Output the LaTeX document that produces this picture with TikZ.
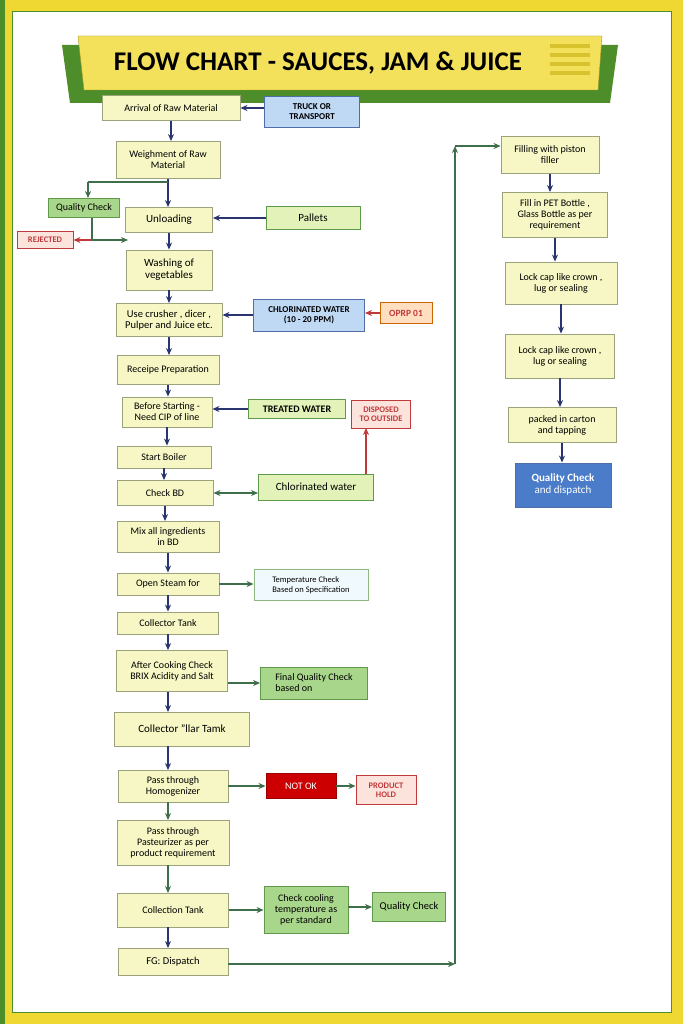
\documentclass[tikz,border=0pt]{standalone}
\usepackage{fontspec}
\setmainfont{Carlito}
\usetikzlibrary{arrows.meta}
\definecolor{ybox}{HTML}{F6F7C4}
\definecolor{ydraw}{HTML}{9CA27A}
\definecolor{gbox}{HTML}{A8D68A}
\definecolor{gdraw}{HTML}{5E9A4A}
\definecolor{lgbox}{HTML}{E2F2B8}
\definecolor{bbox}{HTML}{BFD8F4}
\definecolor{bdraw}{HTML}{4F6EA8}
\definecolor{rbox}{HTML}{FCE3DC}
\definecolor{rdraw}{HTML}{C0393B}
\definecolor{navy}{HTML}{2A3570}
\definecolor{garr}{HTML}{3E6E4A}
\definecolor{frameY}{HTML}{F0D832}
\definecolor{frameG}{HTML}{4E8E2A}
\definecolor{qblue}{HTML}{4A7CC9}
\begin{document}
\begin{tikzpicture}[x=1pt,y=-1pt,
 box/.style={draw=ydraw,fill=ybox,line width=0.9pt,align=center,font=\fontsize{10}{11}\selectfont,inner sep=1pt},
 gb/.style={box,fill=gbox,draw=gdraw},
 lg/.style={box,fill=lgbox,draw=gdraw},
 bb/.style={box,fill=bbox,draw=bdraw,font=\bfseries\fontsize{9}{10}\selectfont},
 rb/.style={box,fill=rbox,draw=rdraw,text=rdraw,font=\bfseries\fontsize{8.5}{9}\selectfont},
 tip/.style={-{Stealth[length=7pt,width=6pt]}},
 na/.style={draw=navy,line width=1.1pt,tip},
 ga/.style={draw=garr,line width=1.1pt,tip},
 ra/.style={draw=rdraw,line width=1.1pt,tip}]
\useasboundingbox (0,0) rectangle (683,1024);
\fill[frameY] (0,0) rectangle (683,1024);
\fill[frameG] (0,0) rectangle (5,1024);
\draw[frameG,line width=1pt] (12,12) rectangle (671,1012);
\fill[white] (12.5,12.5) rectangle (670.5,1011.5);
% title
\fill[frameG] (62,45) -- (618,45) -- (610,103) -- (70,103) -- cycle;
\fill[frameY!80!white,draw=frameY!70!black] (78,36) -- (602,36) -- (598,90) -- (84,90) -- cycle;
\node (title) at (318,63) {\bfseries\fontsize{27}{29}\selectfont FLOW CHART - SAUCES, JAM \& JUICE};
\foreach \yy in {44,53,62,71} \fill[frameY!90!black] (550,\yy) rectangle (590,\yy+4);
% left column
\node[box,minimum width=138,minimum height=25] (a1) at (171,108) {Arrival of Raw Material};
\node[bb,minimum width=95,minimum height=31] (truck) at (312,112) {TRUCK OR\\TRANSPORT};
\node[box,minimum width=104,minimum height=37] (a2) at (168,160) {Weighment of Raw\\Material};
\node[gb,minimum width=71,minimum height=19] (qc) at (84,208) {Quality Check};
\node[box,minimum width=87,minimum height=25,font=\fontsize{11}{12}\selectfont] (unl) at (169,220) {Unloading};
\node[rb,minimum width=56,minimum height=17] (rej) at (45,240) {REJECTED};
\node[lg,minimum width=94,minimum height=23,font=\fontsize{11}{12}\selectfont] (pal) at (313,218) {Pallets};
\node[box,minimum width=86,minimum height=40,font=\fontsize{11}{12}\selectfont] (wash) at (169,270) {Washing of\\vegetables};
\node[box,minimum width=106,minimum height=33,font=\fontsize{10.5}{11.5}\selectfont] (crush) at (169,320) {Use crusher , dicer ,\\Pulper and Juice etc.};
\node[bb,minimum width=111,minimum height=32] (chl) at (309,315) {CHLORINATED WATER\\(10 - 20 PPM)};
\node[box,fill=orange!25,draw=orange!80!black,text=rdraw,font=\bfseries\fontsize{9.5}{10}\selectfont,minimum width=52,minimum height=21] (oprp) at (406,313) {OPRP 01};
\node[box,minimum width=102,minimum height=29] (rec) at (168,370) {Receipe Preparation};
\node[box,minimum width=90,minimum height=30] (bef) at (167,412) {Before Starting -\\Need CIP of line};
\node[lg,minimum width=97,minimum height=19,font=\bfseries\fontsize{10}{11}\selectfont] (tw) at (297,409) {TREATED WATER};
\node[rb,minimum width=59,minimum height=28] (disp) at (381,414) {DISPOSED\\TO OUTSIDE};
\node[box,minimum width=94,minimum height=22] (boil) at (164,457) {Start Boiler};
\node[box,minimum width=96,minimum height=25] (cbd) at (165,493) {Check BD};
\node[lg,minimum width=115,minimum height=26,font=\fontsize{11}{12}\selectfont] (cw) at (316,487) {Chlorinated water};
\node[box,minimum width=102,minimum height=31] (mix) at (168,537) {Mix all ingredients\\in BD};
\node[box,minimum width=102,minimum height=22] (steam) at (168,584) {Open Steam for};
\node[box,fill=cyan!6,draw=gdraw!70,minimum width=114,minimum height=31,align=left,font=\fontsize{8.5}{10}\selectfont] (temp) at (311,585) {Temperature Check\\Based on Specification};
\node[box,minimum width=101,minimum height=22] (col) at (168,623) {Collector Tank};
\node[box,minimum width=111,minimum height=41] (after) at (172,671) {After Cooking Check\\BRIX Acidity and Salt};
\node[gb,minimum width=107,minimum height=32,align=left] (final) at (314,683) {Final Quality Check\\based on};
\node[box,minimum width=135,minimum height=34,font=\fontsize{11}{12}\selectfont] (col2) at (182,729) {Collector "llar Tamk};
\node[box,minimum width=110,minimum height=32] (hom) at (173,786) {Pass through\\Homogenizer};
\node[box,fill=red!80!black,draw=red!60!black,text=white,minimum width=70,minimum height=25] (nok) at (301,786) {NOT OK};
\node[rb,minimum width=60,minimum height=29] (hold) at (386,790) {PRODUCT\\HOLD};
\node[box,minimum width=112,minimum height=45] (past) at (173,843) {Pass through\\Pasteurizer as per\\product requirement};
\node[box,minimum width=111,minimum height=34] (ct) at (173,910) {Collection Tank};
\node[gb,minimum width=84,minimum height=47] (cool) at (306,910) {Check cooling\\temperature as\\per standard};
\node[gb,minimum width=73,minimum height=29,font=\fontsize{10.5}{11}\selectfont] (qc2) at (409,907) {Quality Check};
\node[box,minimum width=110,minimum height=27,font=\fontsize{10.5}{11}\selectfont] (fg) at (173,962) {FG: Dispatch};
% right column
\node[box,minimum width=98,minimum height=37] (fill) at (550,155) {Filling with piston\\filler};
\node[box,minimum width=105,minimum height=45] (pet) at (555,215) {Fill in PET Bottle ,\\Glass Bottle as per\\requirement};
\node[box,minimum width=112,minimum height=42] (l1) at (561,283) {Lock cap like crown ,\\lug or sealing};
\node[box,minimum width=109,minimum height=44] (l2) at (560,356) {Lock cap like crown ,\\lug or sealing};
\node[box,minimum width=108,minimum height=35] (pk) at (562,425) {packed in carton\\and tapping};
\node[box,fill=qblue,draw=bdraw,text=white,minimum width=96,minimum height=44,font=\fontsize{11}{12}\selectfont] (qcd) at (563,485) {\bfseries Quality Check\\and dispatch};
% arrows main
\draw[na] (a1) -- (a1|-a2.north);
\draw[na] (a2.south) -- (a2.south|-unl.north);
\draw[na] (unl) -- (unl|-wash.north);
\draw[na] (wash) -- (wash|-crush.north);
\draw[na] (crush) -- (crush|-rec.north);
\draw[na] (rec) -- (rec|-bef.north);
\draw[na] (bef) -- (bef|-boil.north);
\draw[na] (boil) -- (boil|-cbd.north);
\draw[na] (cbd) -- (cbd|-mix.north);
\draw[na] (mix) -- (mix|-steam.north);
\draw[na] (steam) -- (steam|-col.north);
\draw[na] (col) -- (col|-after.north);
\draw[na] (168,692) -- (168,712);
\draw[na] (168,746) -- (168,770);
\draw[ga] (168,802) -- (168,820);
\draw[ga] (168,865) -- (168,893);
\draw[na] (168,927) -- (168,948);
\draw[na] (fill) -- (fill.south|-pet.north);
\draw[na] (pet) -- (pet.south|-l1.north);
\draw[na] (l1) -- (l1.south|-l2.north);
\draw[na] (l2) -- (l2.south|-pk.north);
\draw[na] (pk) -- (pk.south|-qcd.north);
% side arrows (horizontal)
\draw[na] (truck.west|-a1) -- (a1.east);
\draw[na] (pal.west) -- (unl.east|-pal);
\draw[na] (chl.west) -- (crush.east|-chl);
\draw[ra] (oprp.west) -- (chl.east|-oprp);
\draw[na] (tw.west) -- (bef.east|-tw);
\draw[garr,line width=1.1pt,{Stealth[length=7pt,width=6pt]}-{Stealth[length=7pt,width=6pt]}] (cbd.east) -- (cw.west|-cbd);
\draw[ra] (366,474) -- (366,428);
\draw[ga] (steam.east) -- (temp.west|-steam);
\draw[ga] (after.east|-final) -- (final);
\draw[ga] (hom) -- (nok);
\draw[ga] (nok) -- (hold.west|-nok);
\draw[ga] (ct) -- (cool);
\draw[ga] (cool.east|-qc2) -- (qc2);
% quality check loop
\coordinate (qa) at (168,182);
\coordinate (qb) at (88,182);
\coordinate (qd) at (92,240);
\draw[garr,line width=1.1pt] (qa) -- (qb);
\draw[ga] (qb) -- (qb|-qc.north);
\draw[garr,line width=1.1pt] (qc.south-|qd) -- (qd);
\draw[ra] (qd) -- (rej);
\draw[ga] (qd) -- (128,240);
% big return line
\coordinate (r1) at (455,964);
\coordinate (r2) at (455,146);
\draw[ga] (fg.east|-r1) -- (r1);
\draw[ga] (r1) -- (r2);
\draw[ga] (r2) -- (fill.west|-r2);
\end{tikzpicture}
\end{document}
